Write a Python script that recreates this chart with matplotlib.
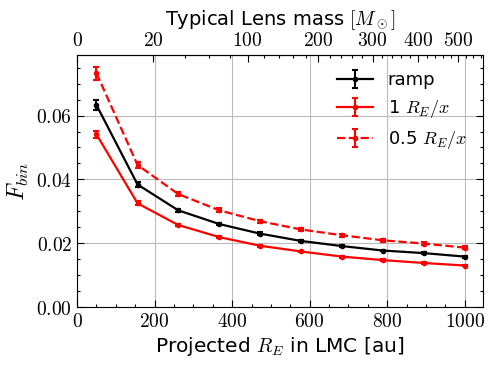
#!/usr/bin/env python3
"""Binary fraction vs projected Einstein radius in the LMC."""

import matplotlib

matplotlib.use("Agg")
import matplotlib.pyplot as plt
import numpy as np
from matplotlib.ticker import AutoMinorLocator, FixedLocator, FuncFormatter

# Projected Einstein radius [au]
r_e = [50, 156, 261, 367, 472, 578, 683, 789, 894, 1000]

# binary fraction for each model
f_ramp = [0.0633, 0.0384, 0.0303, 0.0260, 0.0230, 0.0207, 0.0191, 0.0177, 0.0169, 0.0158]
f_ramp_err = [0.0017, 0.0008, 0.0005, 0.0004, 0.0004, 0.0003, 0.0003, 0.0003, 0.0003, 0.0003]

f_one = [0.0541, 0.0325, 0.0257, 0.0219, 0.0192, 0.0174, 0.0158, 0.0147, 0.0138, 0.0130]
f_one_err = [0.0010, 0.0006, 0.0004, 0.0003, 0.0003, 0.0003, 0.0003, 0.0003, 0.0003, 0.0003]

f_half = [0.0733, 0.0445, 0.0354, 0.0303, 0.0269, 0.0243, 0.0225, 0.0209, 0.0199, 0.0186]
f_half_err = [0.0020, 0.0010, 0.0007, 0.0006, 0.0005, 0.0005, 0.0004, 0.0004, 0.0004, 0.0004]

# top axis: typical lens mass [M_sun]
mass_ticks = [0, 20, 100, 200, 300, 400, 500]
mass_minor = [40, 60, 80, 120, 140, 160, 180, 220, 240, 260, 280,
              320, 340, 360, 380, 420, 440, 460, 480, 520, 540, 560]

# R_E [au] = AU_PER_SQRT_MSUN * sqrt(M / M_sun)
AU_PER_SQRT_MSUN = 44.0

plt.rcParams["font.family"] = ["DejaVu Sans"]
plt.rcParams["mathtext.fontset"] = "cm"


def r_to_m(r):
    r = np.asarray(r, dtype=float)
    return (np.clip(r, 0, None) / AU_PER_SQRT_MSUN) ** 2


def m_to_r(m):
    m = np.asarray(m, dtype=float)
    return AU_PER_SQRT_MSUN * np.sqrt(np.clip(m, 0, None))


def math_fmt(fmt):
    return FuncFormatter(lambda v, p: "$" + fmt.format(v) + "$")


fig = plt.figure(figsize=(4.91, 3.69), dpi=100)
ax = fig.add_axes([0.157, 0.168, 0.827, 0.683])

style = dict(marker="o", markersize=3, capsize=2.5, capthick=1.5, elinewidth=1.5, lw=1.6)
ax.errorbar(r_e, f_ramp, yerr=f_ramp_err, color="black", label="ramp", **style)
ax.errorbar(r_e, f_one, yerr=f_one_err, color="red", label=r"1 $R_E/x$", **style)
ax.errorbar(r_e, f_half, yerr=f_half_err, color="red", ls="--",
            label=r"0.5 $R_E/x$", **style)

ax.set_xlim(0, 1047.5)
ax.set_ylim(0, 0.079)
ax.xaxis.set_major_locator(FixedLocator([0, 200, 400, 600, 800, 1000]))
ax.xaxis.set_minor_locator(AutoMinorLocator(4))
ax.yaxis.set_minor_locator(AutoMinorLocator(4))
ax.xaxis.set_major_formatter(math_fmt("{:.0f}"))
ax.yaxis.set_major_formatter(math_fmt("{:.2f}"))
ax.tick_params(which="both", direction="in", top=False, right=True, labelsize=14)
ax.tick_params(which="major", length=5, width=0.8)
ax.tick_params(which="minor", length=2.5, width=0.8)
ax.grid(True, color="#bbbbbb", lw=0.8)

ax.set_xlabel(r"Projected $R_E$ in LMC [au]", fontsize=14.5, labelpad=3)
ax.set_ylabel(r"$F_{bin}$", fontsize=17, labelpad=4)

top = ax.secondary_xaxis("top", functions=(r_to_m, m_to_r))
top.xaxis.set_major_locator(FixedLocator(mass_ticks))
top.xaxis.set_minor_locator(FixedLocator(mass_minor))
top.xaxis.set_major_formatter(math_fmt("{:.0f}"))
top.tick_params(which="both", direction="in", labelsize=14)
top.tick_params(which="major", length=5, width=0.8)
top.tick_params(which="minor", length=2.5, width=0.8)
top.set_xlabel(r"Typical Lens mass $[M_\odot]$", fontsize=14)

ax.legend(loc="upper right", frameon=False, fontsize=13, handlelength=2.0)

fig.savefig("out.png", dpi=100)
